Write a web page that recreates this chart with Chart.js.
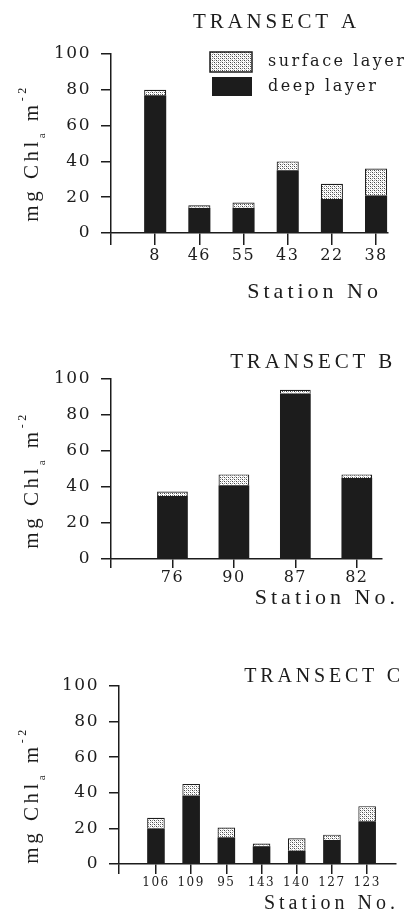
<!DOCTYPE html>
<html>
<head>
<meta charset="utf-8">
<script src="https://cdn.jsdelivr.net/npm/chart.js@4.4.0/dist/chart.umd.min.js"></script>
<style>
  html, body { margin: 0; padding: 0; background: #fff; }
  #wrap { position: relative; width: 413px; height: 917px; }
  .panel { position: absolute; left: 0; width: 413px; }
  canvas { display: block; }
</style>
</head>
<body>
<div id="wrap">
  <div class="panel" style="top:0"><canvas id="cA" width="413" height="305"></canvas></div>
  <div class="panel" style="top:305px"><canvas id="cB" width="413" height="305"></canvas></div>
  <div class="panel" style="top:610px"><canvas id="cC" width="413" height="307"></canvas></div>
</div>
<script>
// data (mg Chl a m^-2)
const stationsA = ["8", "46", "55", "43", "22", "38"];
const deepA = [77, 14, 14, 35, 19, 21];
const surfA = [3, 1.5, 3, 5, 8.5, 15];

const stationsB = ["76", "90", "87", "82"];
const deepB = [35, 41, 92, 45];
const surfB = [2.5, 6, 2, 2];

const stationsC = ["106", "109", "95", "143", "140", "127", "123"];
const deepC = [20, 38.5, 15, 10, 7.5, 13.5, 24];
const surfC = [6, 6.5, 5.5, 1.5, 7, 3, 8.5];

const yTicks = [0, 20, 40, 60, 80, 100];
const yTitle = [["mg Chl", 21, 0], ["a", 11, 7], [" m", 21, 0], ["-2", 12, -12]];

const INK = "#1c1c1c";
const SERIF = "'Liberation Serif', 'DejaVu Serif', serif";
const TICKFONT = "'DejaVu Serif', serif";

function makeStipple(){
  const c = document.createElement("canvas");
  c.width = 4; c.height = 4;
  const g = c.getContext("2d");
  g.fillStyle = "#fff";
  g.fillRect(0, 0, 4, 4);
  g.fillStyle = "#444";
  g.fillRect(0, 0, 1, 1);
  g.fillRect(2, 2, 1, 1);
  g.fillStyle = "#888";
  g.fillRect(2, 0, 1, 1);
  g.fillRect(0, 2, 1, 1);
  g.fillStyle = "#ccc";
  g.fillRect(1, 1, 1, 1);
  g.fillRect(3, 3, 1, 1);
  return g.createPattern(c, "repeat");
}
const stipple = makeStipple();

function txt(ctx, s, x, y, size, align, spacing, family){
  ctx.save();
  ctx.font = size + "px " + (family || SERIF);
  ctx.letterSpacing = (spacing || 0) + "px";
  ctx.fillStyle = INK;
  ctx.textBaseline = "middle";
  let w = ctx.measureText(s).width;
  let sx = x;
  if(align === "right") sx = x - w;
  if(align === "center") sx = x - w / 2;
  ctx.fillText(s, sx, y);
  ctx.restore();
}

// rotated y title with subscript / superscript pieces
function drawYTitle(ctx, cx, cy){
  ctx.save();
  ctx.translate(cx, cy);
  ctx.rotate(-Math.PI / 2);
  ctx.fillStyle = INK;
  ctx.textBaseline = "alphabetic";
  ctx.letterSpacing = "3.5px";
  let total = 0;
  for(const [s, size] of yTitle){
    ctx.font = size + "px " + SERIF;
    total += ctx.measureText(s).width;
  }
  let x = -total / 2;
  for(const [s, size, dy] of yTitle){
    ctx.font = size + "px " + SERIF;
    ctx.fillText(s, x, dy);
    x += ctx.measureText(s).width;
  }
  ctx.restore();
}

function panelPlugin(p){
  return {
    id: "panelText",
    beforeDraw(chart){
      chart.ctx.letterSpacing = "1.5px";
    },
    afterDraw(chart){
      const ctx = chart.ctx;
      const a = chart.chartArea;
      txt(ctx, p.title, p.titleRight, p.titleY, p.titleSize, "right", 3.8);
      txt(ctx, p.xTitle, p.xTitleRight, p.xTitleY, p.xTitleSize, "right", 4);
      drawYTitle(ctx, 38, a.bottom - p.yTitleUp);
      if(p.legend){
        const ds = chart.data.datasets;
        const L = p.legend;
        ctx.save();
        ctx.fillStyle = ds[1].backgroundColor;
        ctx.fillRect(L.x, L.y, 42, 20);
        ctx.strokeStyle = INK;
        ctx.lineWidth = 1.5;
        ctx.strokeRect(L.x, L.y, 42, 20);
        ctx.fillStyle = ds[0].backgroundColor;
        ctx.fillRect(L.x + 2, L.y + 25, 40, 19);
        ctx.restore();
        txt(ctx, ds[1].label, L.x + 58, L.y + 10, 16, "left", 2.5, TICKFONT);
        txt(ctx, ds[0].label, L.x + 58, L.y + 35, 16, "left", 2.5, TICKFONT);
      }
    }
  };
}

function makePanel(id, stations, deep, surf, p){
  const ctx = document.getElementById(id);
  const deepPts = deep.map((v, i) => ({x: i, y: v}));
  const surfPts = surf.map((v, i) => ({x: i, y: v}));
  return new Chart(ctx, {
    type: "bar",
    data: {
      datasets: [
        { label: "deep layer", data: deepPts, backgroundColor: INK, borderWidth: 0,
          barPercentage: 0.5, categoryPercentage: 1 },
        { label: "surface layer", data: surfPts, backgroundColor: stipple,
          borderColor: INK, borderWidth: 1.2, borderSkipped: "bottom",
          barPercentage: 0.5, categoryPercentage: 1 }
      ]
    },
    options: {
      responsive: false,
      animation: false,
      layout: { padding: { left: 0, top: p.top, right: p.right, bottom: 0 } },
      plugins: { legend: { display: false }, tooltip: { enabled: false } },
      scales: {
        x: {
          type: "linear",
          stacked: true,
          offset: false,
          min: p.xmin,
          max: p.xmax,
          afterFit(s){ s.height = p.xHeight; },
          afterBuildTicks(s){
            s.ticks = [{value: p.xmin}].concat(stations.map((_, i) => ({value: i})));
          },
          ticks: {
            autoSkip: false, maxRotation: 0, padding: p.xPad, color: INK,
            font: { family: TICKFONT, size: p.xFont },
            callback: (v) => stations[v] ?? ""
          },
          grid: { offset: false, drawOnChartArea: false, drawTicks: true, tickLength: p.xTick, color: INK, lineWidth: 1.5 },
          border: { display: true, color: INK, width: 1.5 }
        },
        y: {
          stacked: true,
          min: 0,
          max: 100,
          afterFit(s){ s.width = p.left; },
          afterBuildTicks(s){ s.ticks = yTicks.map(v => ({value: v})); },
          ticks: { padding: 10, color: INK, font: { family: TICKFONT, size: 17 } },
          grid: { drawOnChartArea: false, drawTicks: true, tickLength: 10, color: INK, lineWidth: 1.5 },
          border: { display: true, color: INK, width: 1.5 }
        }
      }
    },
    plugins: [panelPlugin(p)]
  });
}

makePanel("cA", stationsA, deepA, surfA, {
  top: 54, right: 25, left: 111, xHeight: 72, xmin: -1, xmax: 5.27, xFont: 16, xTick: 12, xPad: 1,
  title: "TRANSECT A", titleRight: 360, titleY: 22, titleSize: 21,
  xTitle: "Station No", xTitleRight: 382, xTitleY: 292, xTitleSize: 22, yTitleUp: 80,
  legend: { x: 210, y: 52 }
});
makePanel("cB", stationsB, deepB, surfB, {
  top: 74, right: 31, left: 111, xHeight: 51, xmin: -1, xmax: 3.41, xFont: 16, xTick: 9, xPad: 0,
  title: "TRANSECT B", titleRight: 396, titleY: 57, titleSize: 21,
  xTitle: "Station No.", xTitleRight: 399, xTitleY: 293, xTitleSize: 22, yTitleUp: 79
});
makePanel("cC", stationsC, deepC, surfC, {
  top: 76, right: 17, left: 119, xHeight: 53, xmin: -1.05, xmax: 6.82, xFont: 12, xTick: 10, xPad: 2,
  title: "TRANSECT C", titleRight: 404, titleY: 67, titleSize: 20,
  xTitle: "Station No.", xTitleRight: 399, xTitleY: 294, xTitleSize: 20, yTitleUp: 69
});
</script>
</body>
</html>
